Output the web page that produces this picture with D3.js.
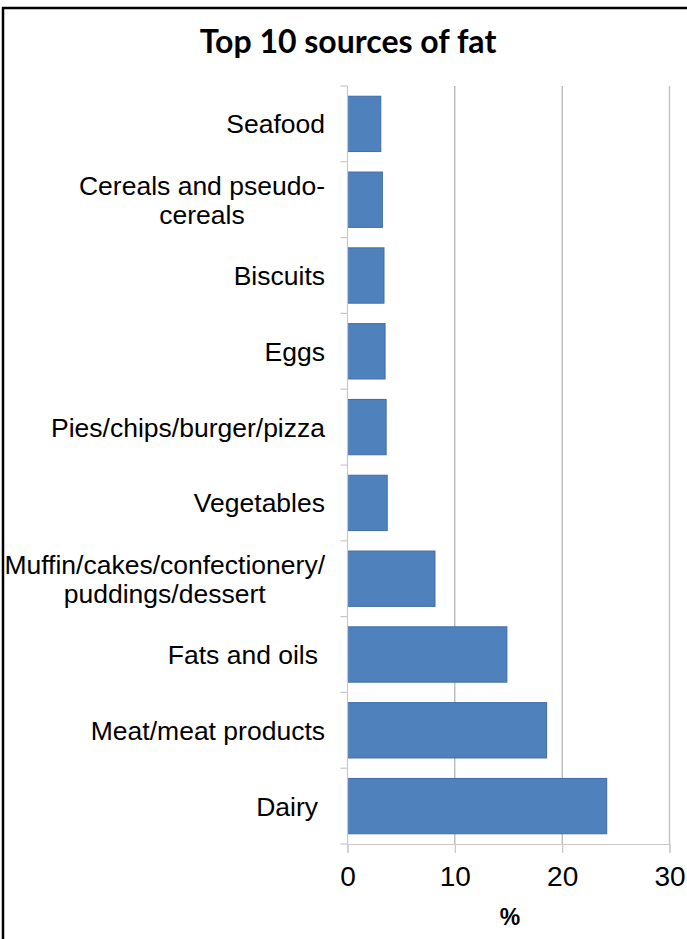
<!DOCTYPE html>
<html>
<head>
<meta charset="utf-8">
<script src="https://cdn.jsdelivr.net/npm/d3@7"></script>
<style>
  html, body { margin: 0; padding: 0; background: #fff; }
  svg { display: block; }
</style>
</head>
<body>
<svg id="chart" width="687" height="939"></svg>
<script>
// Top 10 sources of fat (% of total fat intake), listed top to bottom
const categories = [
  ["Seafood"],
  ["Cereals and pseudo-", "cereals"],
  ["Biscuits"],
  ["Eggs"],
  ["Pies/chips/burger/pizza"],
  ["Vegetables"],
  ["Muffin/cakes/confectionery/", "puddings/dessert"],
  ["Fats and oils"],
  ["Meat/meat products"],
  ["Dairy"]
];
const values = [3.1, 3.25, 3.4, 3.5, 3.6, 3.7, 8.15, 14.85, 18.55, 24.15];
const xTicks = [0, 10, 20, 30];
const titleText = "Top 10 sources of fat";
const xAxisTitle = "%";

const svg = d3.select("#chart");
const margin = { top: 86, right: 17, bottom: 95, left: 347.5 };
const innerW = 669.5 - margin.left;
const innerH = 844 - margin.top;

// outer frame
svg.append("rect")
  .attr("x", 3).attr("y", 8)
  .attr("width", 720).attr("height", 960)
  .attr("fill", "none").attr("stroke", "#000").attr("stroke-width", 2.5);

svg.append("text")
  .attr("x", 348).attr("y", 53)
  .attr("text-anchor", "middle")
  .attr("font-family", "Lato, 'Open Sans', sans-serif")
  .attr("font-weight", "bold")
  .attr("font-size", 32)
  .attr("fill", "#000")
  .text(titleText);

const g = svg.append("g").attr("transform", `translate(${margin.left},${margin.top})`);

const x = d3.scaleLinear().domain([0, 30]).range([0, innerW]);
const y = d3.scaleBand().domain(d3.range(categories.length)).range([0, innerH])
  .paddingInner(0.27).paddingOuter(0.135);

// vertical gridlines
g.selectAll("line.grid").data(xTicks.filter(d => d > 0)).enter().append("line")
  .attr("class", "grid")
  .attr("x1", d => x(d)).attr("x2", d => x(d))
  .attr("y1", 0).attr("y2", innerH)
  .attr("stroke", d => d === 30 ? "#c4c4c4" : "#9e9e9e")
  .attr("stroke-width", d => d === 30 ? 1.5 : 1);

// bars
g.selectAll("rect.bar").data(values).enter().append("rect")
  .attr("class", "bar")
  .attr("x", x(0))
  .attr("y", (d, i) => y(i))
  .attr("width", d => x(d) - x(0))
  .attr("height", y.bandwidth())
  .attr("fill", "#4F81BD")
  .attr("stroke", "#3E6CA6")
  .attr("stroke-width", 1);

// y axis line and category ticks at band boundaries
const yBounds = d3.range(categories.length + 1).map(i => i * innerH / categories.length);
g.append("line")
  .attr("x1", 0).attr("x2", 0).attr("y1", 0).attr("y2", innerH)
  .attr("stroke", "#c8c8c8").attr("stroke-width", 1.2);
g.selectAll("line.ytick").data(yBounds).enter().append("line")
  .attr("x1", -7).attr("x2", 0)
  .attr("y1", d => d).attr("y2", d => d)
  .attr("stroke", "#c8c8c8").attr("stroke-width", 1.2);

// x axis
const xAxis = d3.axisBottom(x).tickValues(xTicks).tickSize(9).tickPadding(13).tickFormat(d3.format("d"));
const xg = g.append("g").attr("transform", `translate(0,${innerH})`).call(xAxis);
xg.select(".domain").attr("stroke", "#c8c8c8").attr("stroke-width", 1.2);
xg.selectAll(".tick line").attr("stroke", "#c8c8c8").attr("stroke-width", 1.2);
xg.selectAll(".tick text")
  .attr("font-family", "'Liberation Sans', Arial, sans-serif")
  .attr("font-size", 28)
  .attr("fill", "#000")
  .attr("dy", "0.71em");

svg.append("text")
  .attr("x", 510).attr("y", 925)
  .attr("text-anchor", "middle")
  .attr("font-family", "'Liberation Sans', Arial, sans-serif")
  .attr("font-weight", "bold")
  .attr("font-size", 23)
  .attr("fill", "#000")
  .text(xAxisTitle);

// category labels: wrapped lines centred on each other, block right-aligned
const labelRight = [325, 325, 325, 325, 325, 325, 325, 318, 325, 318];
const lineH = 29;
categories.forEach((lines, i) => {
  const cy = margin.top + (i + 0.5) * innerH / categories.length;
  const grp = svg.append("g");
  const texts = lines.map((t, k) => grp.append("text")
    .attr("font-family", "'Liberation Sans', Arial, sans-serif")
    .attr("font-size", 26.5)
    .attr("fill", "#000")
    .attr("text-anchor", "middle")
    .attr("y", cy + 9.5 + (k - (lines.length - 1) / 2) * lineH)
    .text(t));
  const maxW = d3.max(texts, t => t.node().getComputedTextLength());
  texts.forEach(t => t.attr("x", labelRight[i] - maxW / 2));
});
</script>
</body>
</html>
